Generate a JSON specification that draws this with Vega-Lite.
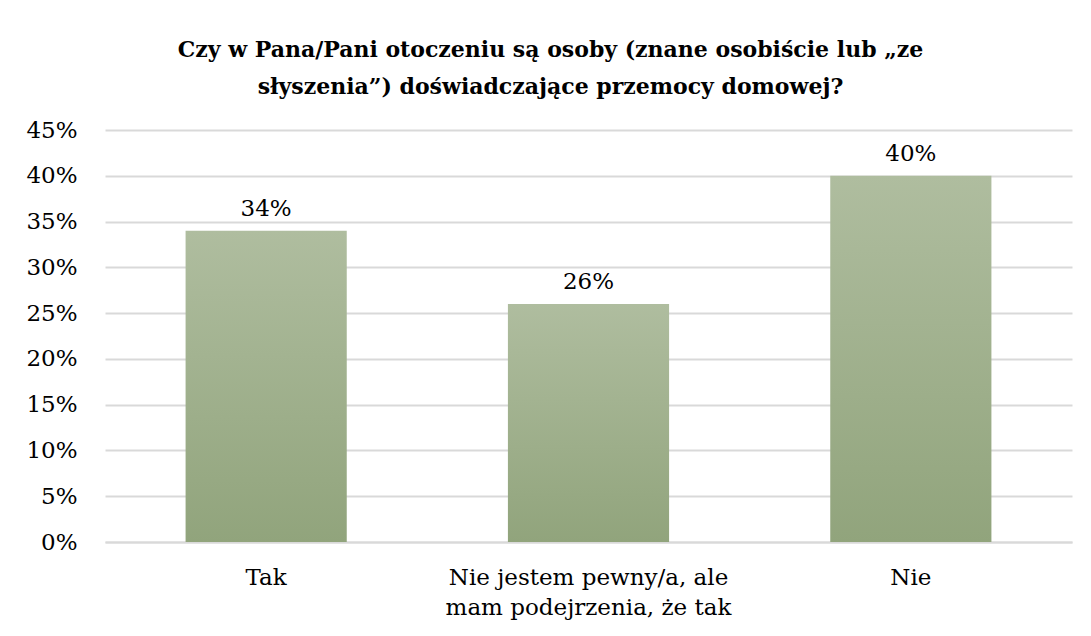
{
  "$schema": "https://vega.github.io/schema/vega-lite/v6.json",
  "autosize": "none",
  "width": 967,
  "height": 412,
  "padding": {"left": 105, "top": 130, "right": 19, "bottom": 94},
  "background": "white",
  "title": {
    "text": ["Czy w Pana/Pani otoczeniu są osoby (znane osobiście lub „ze", "słyszenia”) doświadczające przemocy domowej?"],
    "font": "DejaVu Serif",
    "fontSize": 22,
    "fontWeight": "bold",
    "color": "#000000",
    "lineHeight": 37,
    "anchor": "middle",
    "frame": "group",
    "dx": -38,
    "offset": 20
  },
  "data": {
    "values": [
      {"kategoria": "Tak", "wartosc": 0.34},
      {"kategoria": "Nie jestem pewny/a, ale mam podejrzenia, że tak", "wartosc": 0.26},
      {"kategoria": "Nie", "wartosc": 0.40}
    ]
  },
  "encoding": {
    "x": {
      "field": "kategoria",
      "type": "nominal",
      "sort": null,
      "scale": {"paddingInner": 0.5, "paddingOuter": 0.25},
      "axis": {
        "title": null,
        "labelAngle": 0,
        "labelFont": "DejaVu Serif",
        "labelFontSize": 23,
        "labelColor": "#000000",
        "labelLineHeight": 30,
        "labelPadding": 24,
        "labelBaseline": "top",
        "labelLimit": 0,
        "labelExpr": "datum.value == 'Nie jestem pewny/a, ale mam podejrzenia, że tak' ? ['Nie jestem pewny/a, ale', 'mam podejrzenia, że tak'] : datum.value",
        "ticks": false,
        "domain": true,
        "domainColor": "#d9d9d9",
        "domainWidth": 2,
        "grid": false
      }
    },
    "y": {
      "field": "wartosc",
      "type": "quantitative",
      "scale": {"domain": [0, 0.45], "nice": false},
      "axis": {
        "title": null,
        "format": ".0%",
        "values": [0, 0.05, 0.1, 0.15, 0.2, 0.25, 0.3, 0.35, 0.4, 0.45],
        "labelFont": "DejaVu Serif",
        "labelFontSize": 23,
        "labelColor": "#000000",
        "labelPadding": 28,
        "ticks": false,
        "domain": false,
        "grid": true,
        "gridColor": "#d9d9d9",
        "gridWidth": 2
      }
    }
  },
  "layer": [
    {
      "mark": {
        "type": "bar",
        "color": {
          "gradient": "linear",
          "x1": 0, "y1": 0, "x2": 0, "y2": 1,
          "stops": [
            {"offset": 0, "color": "#afbd9f"},
            {"offset": 1, "color": "#91a47c"}
          ]
        }
      }
    },
    {
      "mark": {
        "type": "text",
        "font": "DejaVu Serif",
        "fontSize": 23,
        "color": "#000000",
        "baseline": "alphabetic",
        "dy": -15
      },
      "encoding": {
        "text": {"field": "wartosc", "type": "quantitative", "format": ".0%"}
      }
    }
  ],
  "config": {
    "view": {"stroke": null}
  }
}
